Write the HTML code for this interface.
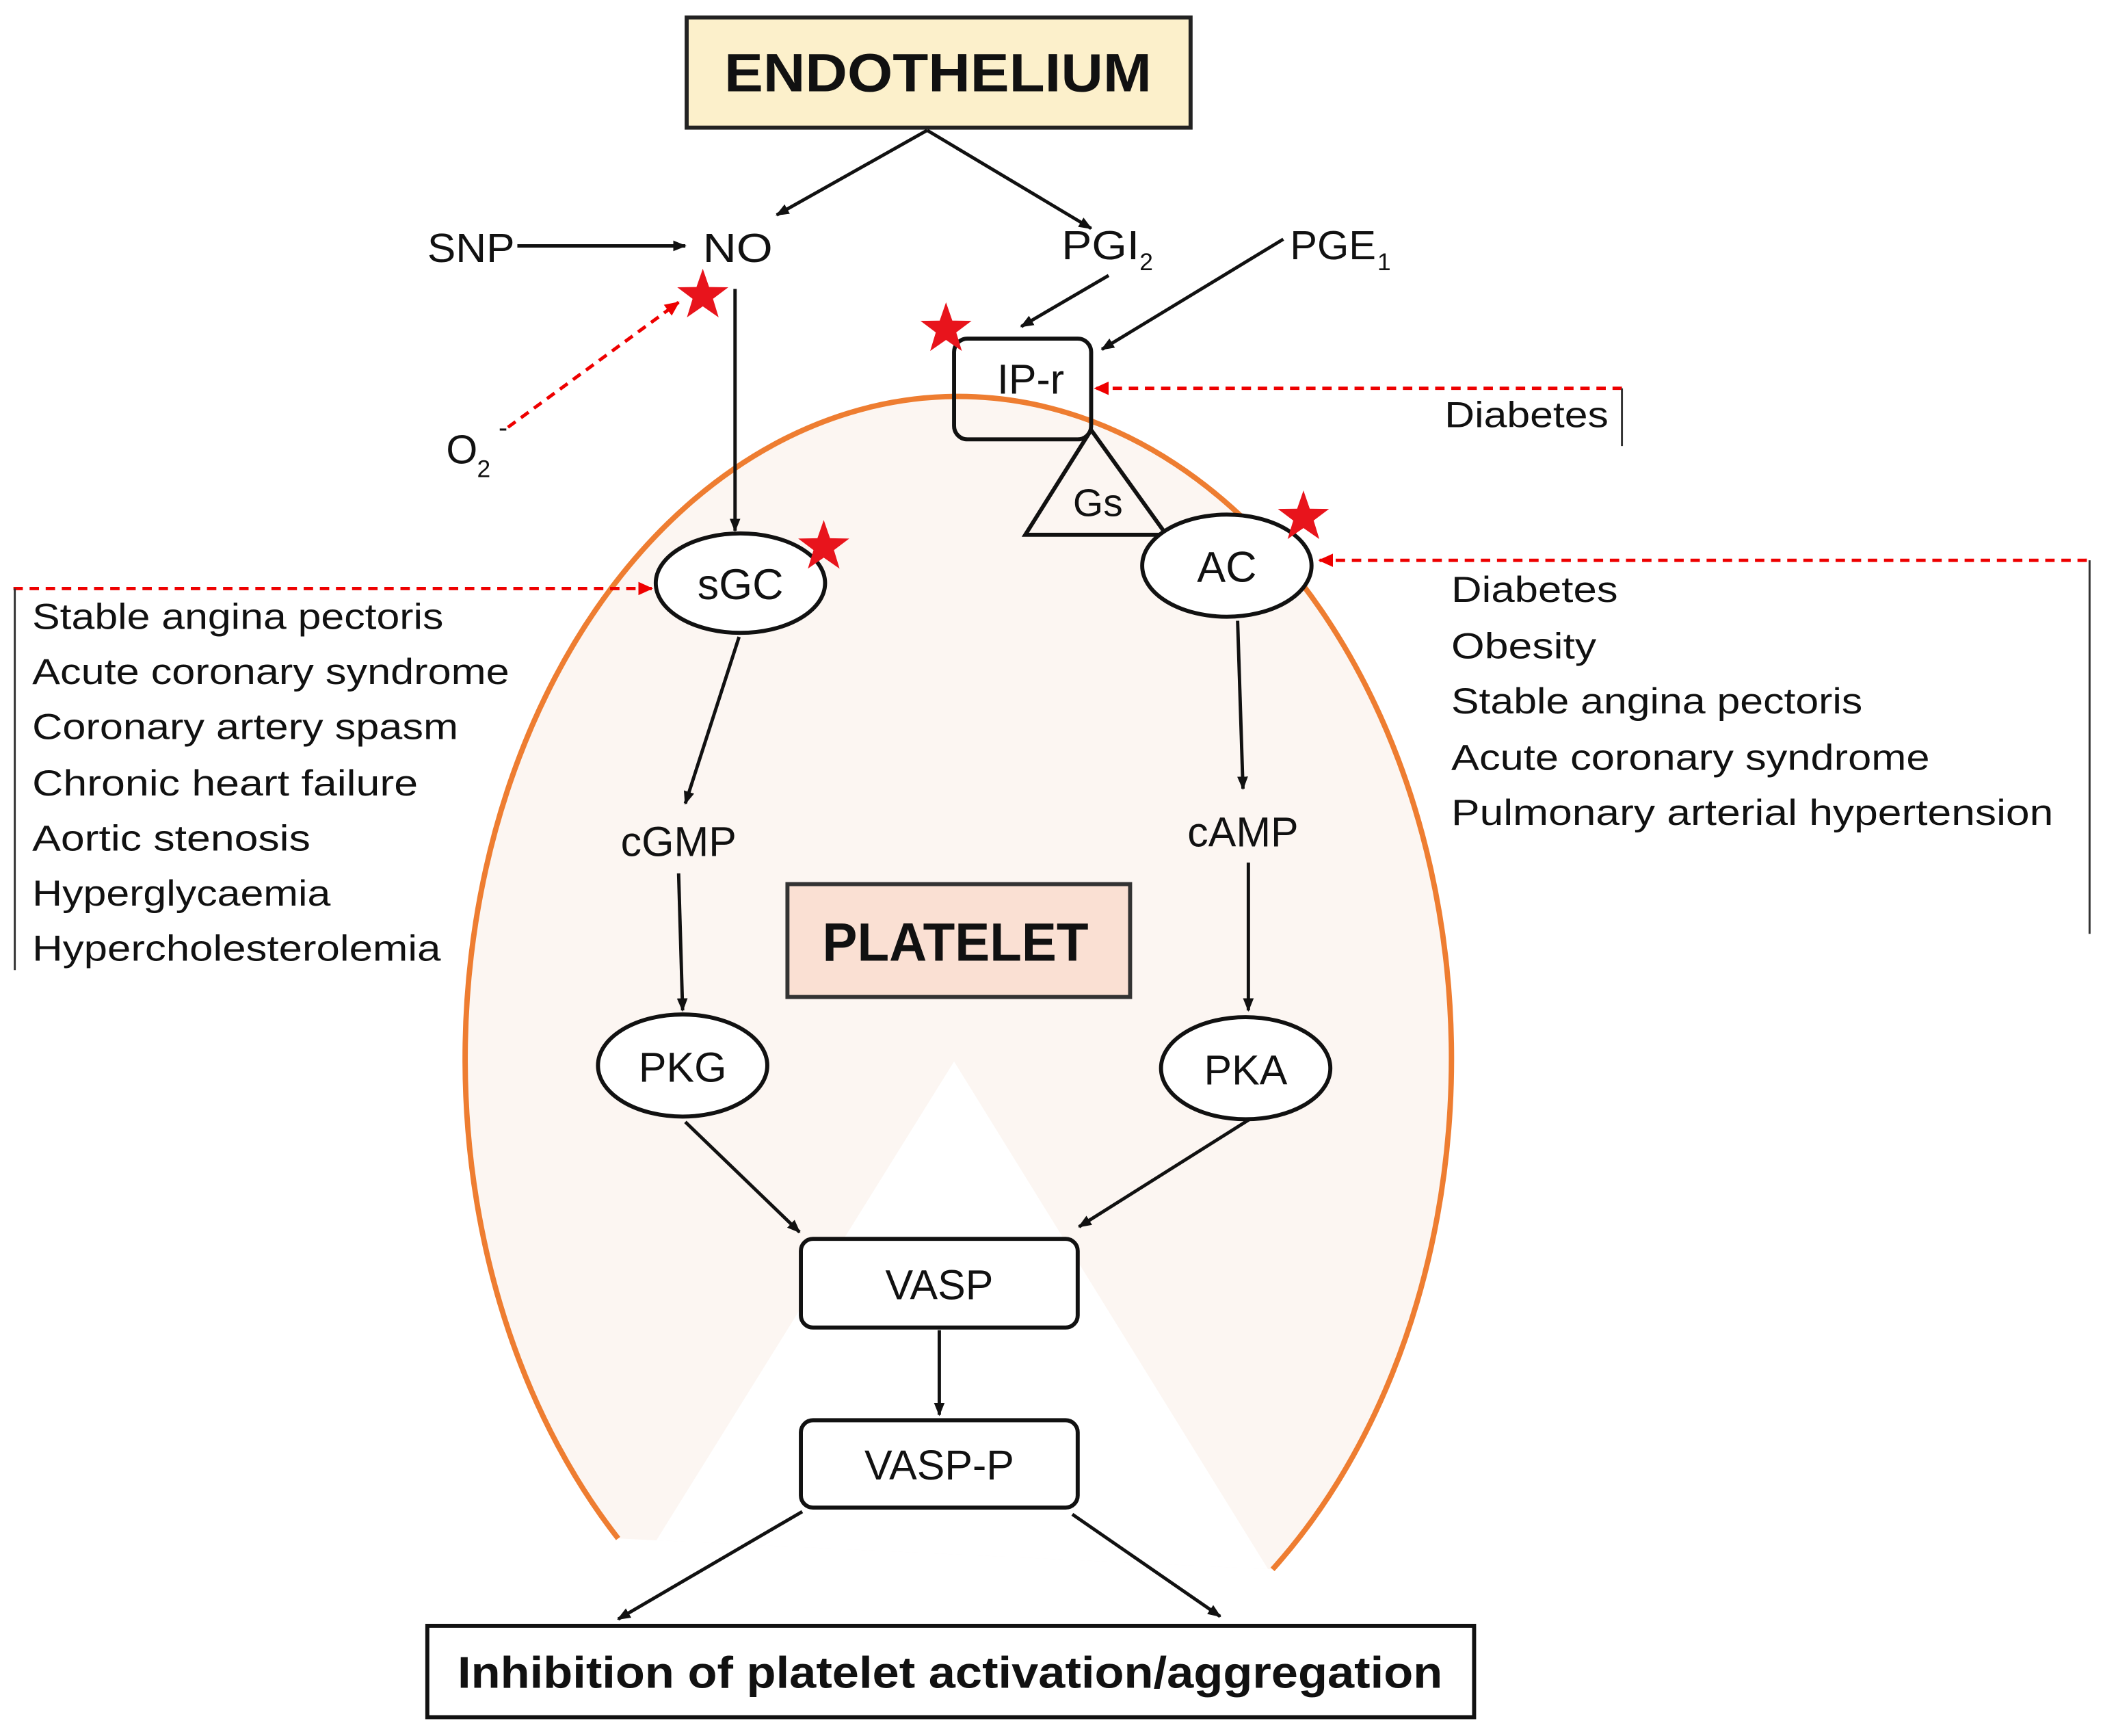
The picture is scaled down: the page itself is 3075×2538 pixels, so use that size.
<!DOCTYPE html>
<html><head><meta charset="utf-8"><style>
html,body{margin:0;padding:0;background:#fff;}
svg{display:block;}
text{font-family:"Liberation Sans",sans-serif;fill:#111;}
</style></head><body>
<svg width="3075" height="2538" viewBox="0 0 1565 1292" preserveAspectRatio="none" xmlns="http://www.w3.org/2000/svg">
<defs>
<marker id="ah" markerWidth="10" markerHeight="10" refX="9" refY="5" orient="auto" markerUnits="userSpaceOnUse"><path d="M0,1 L10,5 L0,9 z" fill="#111"/></marker>
<marker id="ar" markerWidth="12" markerHeight="12" refX="10" refY="6" orient="auto" markerUnits="userSpaceOnUse"><path d="M0,1 L11,6 L0,11 z" fill="#e00"/></marker>
<symbol id="star" viewBox="-10 -10 20 20"><polygon points="0,-10 2.35,-3.2 9.5,-3.1 3.8,1.2 5.9,8.1 0,4 -5.9,8.1 -3.8,1.2 -9.5,-3.1 -2.35,-3.2" fill="#e8141c"/></symbol>
<clipPath id="cl"><path d="M460,1145 A367,493 0 1 1 947,1168 z"/></clipPath>
</defs>
<g clip-path="url(#cl)">
<ellipse cx="712" cy="790" rx="367" ry="493" fill="#fcf6f2"/>
<polygon points="710,790 480,1160 945,1170" fill="#fff"/>
</g>
<path d="M460,1145 A367,493 0 1 1 947,1168" fill="none" stroke="#ee7d31" stroke-width="4"/>

<rect x="511" y="13" width="375" height="82" fill="#fcf0cb" stroke="#222" stroke-width="3"/>
<text x="698" y="68" font-size="40" font-weight="bold" text-anchor="middle" textLength="318" lengthAdjust="spacingAndGlyphs">ENDOTHELIUM</text>

<g stroke="#111" stroke-width="2.5" fill="none" marker-end="url(#ah)">
<line x1="690" y1="97" x2="578" y2="160"/>
<line x1="690" y1="97" x2="812" y2="170"/>
<line x1="385" y1="183" x2="510" y2="183"/>
<line x1="825" y1="205" x2="760" y2="243"/>
<line x1="955" y1="178" x2="820" y2="260"/>
<line x1="547" y1="215" x2="547" y2="395"/>
<line x1="550" y1="474" x2="510" y2="598"/>
<line x1="505" y1="650" x2="508" y2="752"/>
<line x1="921" y1="462" x2="925" y2="587"/>
<line x1="929" y1="642" x2="929" y2="752"/>
<line x1="510" y1="835" x2="595" y2="917"/>
<line x1="930" y1="833" x2="803" y2="913"/>
<line x1="699" y1="990" x2="699" y2="1053"/>
<line x1="597" y1="1125" x2="460" y2="1205"/>
<line x1="798" y1="1127" x2="908" y2="1203"/>
</g>

<text x="318" y="195" font-size="30" textLength="65" lengthAdjust="spacingAndGlyphs">SNP</text>
<text x="523" y="195" font-size="30" textLength="52" lengthAdjust="spacingAndGlyphs">NO</text>
<text x="790" y="193" font-size="30" textLength="58" lengthAdjust="spacingAndGlyphs">PGI</text>
<text x="848" y="201" font-size="18">2</text>
<text x="960" y="193" font-size="30" textLength="64" lengthAdjust="spacingAndGlyphs">PGE</text>
<text x="1025" y="201" font-size="18">1</text>
<text x="332" y="345" font-size="30">O</text>
<text x="355" y="355" font-size="18">2</text>
<text x="371" y="325" font-size="20">-</text>

<g stroke="#e00" stroke-width="2.5" stroke-dasharray="7,5" fill="none" marker-end="url(#ar)">
<line x1="378" y1="318" x2="505" y2="225"/>
<line x1="1207" y1="289" x2="815" y2="289"/>
<line x1="1553" y1="417" x2="982" y2="417"/>
<line x1="10" y1="438" x2="485" y2="438"/>
</g>
<g stroke="#333" stroke-width="1.5">
<line x1="1207" y1="289" x2="1207" y2="332"/>
<line x1="1555" y1="417" x2="1555" y2="695"/>
<line x1="11" y1="438" x2="11" y2="722"/>
</g>
<text x="1075" y="318" font-size="27" textLength="122" lengthAdjust="spacingAndGlyphs">Diabetes</text>

<rect x="710" y="252" width="102" height="75" rx="10" fill="none" stroke="#111" stroke-width="3"/>
<text x="767" y="293" font-size="31" text-anchor="middle">IP-r</text>
<polygon points="812,320 763,398 868,398" fill="none" stroke="#111" stroke-width="3"/>
<text x="817" y="384" font-size="29" text-anchor="middle">Gs</text>

<ellipse cx="913" cy="421" rx="63" ry="38" fill="#fff" stroke="#111" stroke-width="3"/>
<text x="913" y="433" font-size="32" text-anchor="middle">AC</text>
<ellipse cx="551" cy="434" rx="63" ry="37" fill="#fff" stroke="#111" stroke-width="3"/>
<text x="551" y="446" font-size="32" text-anchor="middle">sGC</text>

<use href="#star" x="503" y="200" width="40" height="40"/>
<use href="#star" x="684" y="225" width="40" height="40"/>
<use href="#star" x="593" y="387" width="40" height="40"/>
<use href="#star" x="950" y="365" width="40" height="40"/>

<g font-size="27">
<text x="24" y="468" textLength="306" lengthAdjust="spacingAndGlyphs">Stable angina pectoris</text>
<text x="24" y="509" textLength="355" lengthAdjust="spacingAndGlyphs">Acute coronary syndrome</text>
<text x="24" y="550" textLength="317" lengthAdjust="spacingAndGlyphs">Coronary artery spasm</text>
<text x="24" y="592" textLength="287" lengthAdjust="spacingAndGlyphs">Chronic heart failure</text>
<text x="24" y="633" textLength="207" lengthAdjust="spacingAndGlyphs">Aortic stenosis</text>
<text x="24" y="674" textLength="222" lengthAdjust="spacingAndGlyphs">Hyperglycaemia</text>
<text x="24" y="715" textLength="304" lengthAdjust="spacingAndGlyphs">Hypercholesterolemia</text>
</g>
<g font-size="27">
<text x="1080" y="448" textLength="124" lengthAdjust="spacingAndGlyphs">Diabetes</text>
<text x="1080" y="490" textLength="108" lengthAdjust="spacingAndGlyphs">Obesity</text>
<text x="1080" y="531" textLength="306" lengthAdjust="spacingAndGlyphs">Stable angina pectoris</text>
<text x="1080" y="573" textLength="356" lengthAdjust="spacingAndGlyphs">Acute coronary syndrome</text>
<text x="1080" y="614" textLength="448" lengthAdjust="spacingAndGlyphs">Pulmonary arterial hypertension</text>
</g>

<text x="505" y="637" font-size="31" text-anchor="middle">cGMP</text>
<text x="925" y="630" font-size="31" text-anchor="middle">cAMP</text>

<rect x="586" y="658" width="255" height="84" fill="#fae0d3" stroke="#333" stroke-width="3"/>
<text x="711" y="715" font-size="40" font-weight="bold" text-anchor="middle" textLength="198" lengthAdjust="spacingAndGlyphs">PLATELET</text>

<ellipse cx="508" cy="793" rx="63" ry="38" fill="#fff" stroke="#111" stroke-width="3"/>
<text x="508" y="805" font-size="31" text-anchor="middle">PKG</text>
<ellipse cx="927" cy="795" rx="63" ry="38" fill="#fff" stroke="#111" stroke-width="3"/>
<text x="927" y="807" font-size="31" text-anchor="middle">PKA</text>

<rect x="596" y="922" width="206" height="66" rx="9" fill="#fff" stroke="#111" stroke-width="3"/>
<text x="699" y="967" font-size="31" text-anchor="middle">VASP</text>
<rect x="596" y="1057" width="206" height="65" rx="9" fill="#fff" stroke="#111" stroke-width="3"/>
<text x="699" y="1101" font-size="31" text-anchor="middle">VASP-P</text>

<rect x="318" y="1210" width="779" height="68" fill="#fff" stroke="#111" stroke-width="3"/>
<text x="707" y="1256" font-size="33" font-weight="bold" text-anchor="middle" textLength="733" lengthAdjust="spacingAndGlyphs">Inhibition of platelet activation/aggregation</text>
</svg>
</body></html>
